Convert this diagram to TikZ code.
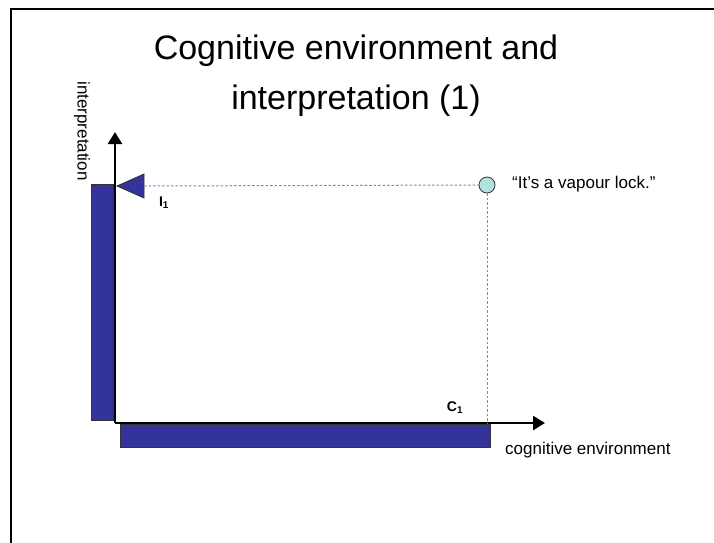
\documentclass[tikz,border=0pt]{standalone}
\usepackage{fontspec}
\setmainfont{Liberation Sans}
\usetikzlibrary{arrows.meta, positioning, calc}
\definecolor{barblue}{RGB}{51,51,153}
\definecolor{dotblue}{RGB}{128,128,208}
\definecolor{pointfill}{RGB}{180,224,224}

\begin{document}
\begin{tikzpicture}[
  x=1pt, y=-1pt,
  bar/.style={draw=black!80, line width=0.8pt, fill=barblue},
  axis/.style={-{Triangle[length=12pt, width=14pt]}, line width=2.6pt},
  guide/.style={dotblue, dash pattern=on 2.5pt off 2pt, line width=1pt},
  lbl/.style={font=\fontsize{17}{20}\selectfont, inner sep=0pt},
  sub/.style={font=\fontsize{14}{16}\selectfont\bfseries, inner sep=0pt}
]
\useasboundingbox (0,0) rectangle (714,542);
\fill[white] (0,0) rectangle (714,542);
\draw[line width=2.6pt] (11,545) -- (11,9) -- (717,9);

\node[align=center, font=\fontsize{34}{50}\selectfont, inner sep=0pt, anchor=north] (title) at (356,35)
  {Cognitive environment and\\interpretation (1)};

\fill[bar] (91,184) rectangle (113,420);
\fill[bar] (120,424) rectangle (490,447);

\coordinate (origin) at (115,423);
\coordinate (ytip) at (115,132);
\coordinate (xtip) at (545,423);
\draw[axis] (origin) -- (ytip);
\draw[axis] (origin) -- (xtip);

\node[lbl, rotate=-90] (ylabel) at (82,131) {interpretation};
\node[lbl, anchor=west] (xlabel) at (505,450) {cognitive environment};

\node[circle, draw=black!80, line width=0.8pt, fill=pointfill, minimum size=16pt, inner sep=0pt] (point) at (487,185) {};
\node[lbl, anchor=west] (utter) at (512,184) {“It’s a vapour lock.”};

\coordinate (iapex) at (117,186);
\coordinate (ibase) at (144,186);
\fill[bar] (iapex) -- (144,174) -- (144,198) -- cycle;

\draw[guide] (ibase) -- (point.west);
\draw[guide] (point.south) -- (point.south |- origin);

\node[sub] (ione) at (164,203) {I\textsubscript{1}};
\node[sub] (cone) at (455,408) {C\textsubscript{1}};
\end{tikzpicture}
\end{document}
